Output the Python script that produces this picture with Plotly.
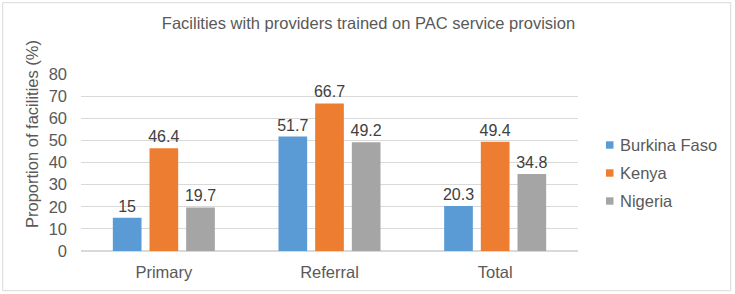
import plotly.graph_objects as go

categories = ["Primary", "Referral", "Total"]
series_names = ["Burkina Faso", "Kenya", "Nigeria"]
burkina = [15, 51.7, 20.3]
kenya = [46.4, 66.7, 49.4]
nigeria = [19.7, 49.2, 34.8]
colors = ["#5B9BD5", "#ED7D31", "#A5A5A5"]
y_ticks = [0, 10, 20, 30, 40, 50, 60, 70, 80]

FONT = "Liberation Sans, Arial, sans-serif"
FS = 16.5
fig = go.Figure()
for name, vals, col in zip(series_names, [burkina, kenya, nigeria], colors):
    fig.add_trace(go.Bar(
        x=categories, y=vals, name=name, marker_color=col, marker_line_width=0,
        text=[f"{v:g}" for v in vals], textposition="outside", cliponaxis=False,
        constraintext="none",
        textfont=dict(size=16, color="#404040", family=FONT),
        showlegend=False, hoverinfo="skip",
    ))

W, H = 735, 294
l, r, t, b = 81, 157, 74, 43
pw, ph = W - l - r, H - t - b

def px(x):
    return (x - l) / pw

def py(y):
    return (H - b - y) / ph

shapes = [dict(type="rect", xref="paper", yref="paper",
               x0=px(2.7), x1=px(730.7), y0=py(290.7), y1=py(2.7),
               line=dict(color="#D9D9D9", width=1), fillcolor="rgba(0,0,0,0)", layer="below")]
annotations = [dict(text="Proportion of facilities (%)", textangle=-90, xref="paper", yref="paper",
                    x=px(32), y=py(134), xanchor="center", yanchor="middle", showarrow=False,
                    font=dict(size=FS, color="#595959", family=FONT))]
# manual legend
for i, (name, col) in enumerate(zip(series_names, colors)):
    cy = 145 + 28 * i
    shapes.append(dict(type="rect", xref="paper", yref="paper",
                       x0=px(606), x1=px(613.5), y0=py(cy + 3.7), y1=py(cy - 3.7),
                       line=dict(width=0), fillcolor=col))
    annotations.append(dict(text=name, xref="paper", yref="paper", x=px(617.5), y=py(cy),
                            xanchor="left", yanchor="middle", showarrow=False,
                            font=dict(size=FS, color="#595959", family=FONT)))

fig.update_layout(
    width=W, height=H,
    margin=dict(l=l, r=r, t=t, b=b),
    paper_bgcolor="white", plot_bgcolor="white",
    font=dict(family=FONT, color="#595959", size=FS),
    title=dict(text="Facilities with providers trained on PAC service provision",
               xref="container", yref="container",
               x=368.5 / W, xanchor="center", y=1 - 23 / H, yanchor="middle",
               font=dict(size=FS, color="#595959")),
    barmode="group", bargap=0.336, bargroupgap=0.218,
    showlegend=False,
    xaxis=dict(showgrid=False, showline=False, ticks="", tickfont=dict(size=FS),
               ticklabelstandoff=9),
    yaxis=dict(range=[0, 80], tickvals=y_ticks, showgrid=True, gridcolor="#D9D9D9",
               zeroline=True, zerolinecolor="#D9D9D9", showline=False, ticks="",
               tickfont=dict(size=FS), ticklabelstandoff=13),
    shapes=shapes,
    annotations=annotations,
)

fig.write_html("out.html", config={"displayModeBar": False, "staticPlot": True},
               post_script="document.documentElement.style.margin='0';document.body.style.margin='0';document.body.style.padding='0';document.body.style.overflow='hidden';")
